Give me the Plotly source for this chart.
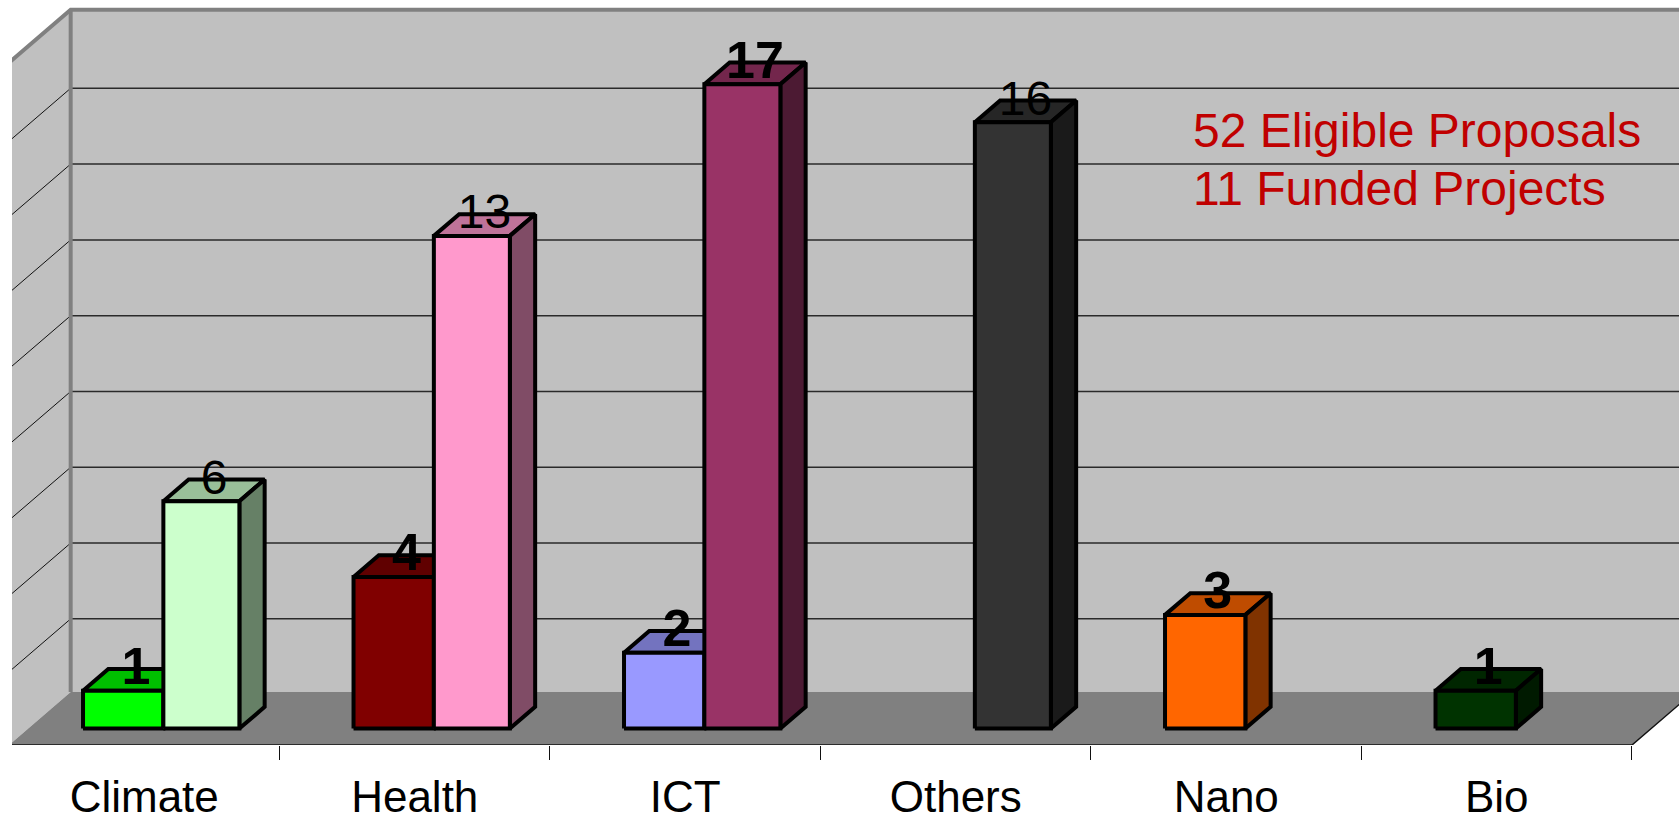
import plotly.graph_objects as go

# Proposal counts per research area
categories = ["Climate", "Health", "ICT", "Others", "Nano", "Bio"]
funded = [1, 4, 2, None, 3, 1]
eligible = [6, 13, 17, 16, None, None]
funded_colors = ["#00FF00", "#800000", "#9999FF", None, "#FF6600", "#003300"]
eligible_colors = ["#CCFFCC", "#FF99CC", "#993366", "#333333", None, None]
value_gridlines = [2, 4, 6, 8, 10, 12, 14, 16, 18]
notes = ["52 Eligible Proposals", "11 Funded Projects"]

# Oblique projection used for the 3D box: depth runs 0 (front) to 1 (back)
DX = 0.228
DY = 1.398
BAR_FRONT = 0.31
BAR_DEPTH = 0.41
FUNDED_WIDTH = 0.297
ELIGIBLE_WIDTH = 0.281
WALL_TOP = 18
GRID_DROP = 0.07
RIGHT_END = 6
X_RANGE = [0.0111, 6.1738]
Y_RANGE = [-BAR_FRONT * DY, 19.224]

FONT = "Liberation Sans, Arial, sans-serif"
EDGE = 4
LABEL_LIFT = 0.23


def project(x, value, depth):
    return x + depth * DX, value + (depth - BAR_FRONT) * DY


def shade(color, factor):
    r, g, b = (int(color[i:i + 2], 16) for i in (1, 3, 5))
    return f"rgb({r * factor:.0f},{g * factor:.0f},{b * factor:.0f})"


def polygon(points, fill, line_color=None, width=0):
    xs, ys = zip(*points)
    return go.Scatter(
        x=list(xs) + [xs[0]], y=list(ys) + [ys[0]], mode="lines", fill="toself",
        fillcolor=fill, line=dict(color=line_color or fill, width=width),
        hoverinfo="skip", showlegend=False,
    )


def line(points, color, width):
    xs, ys = zip(*points)
    return go.Scatter(x=list(xs), y=list(ys), mode="lines",
                      line=dict(color=color, width=width),
                      hoverinfo="skip", showlegend=False)


fig = go.Figure()

# Walls and floor
fig.add_trace(polygon([project(0, 0, 0), project(0, WALL_TOP, 0),
                       project(0, WALL_TOP, 1), project(0, 0, 1)], "#C0C0C0"))
fig.add_trace(polygon([project(0, 0, 1), project(0, WALL_TOP, 1),
                       project(RIGHT_END, WALL_TOP, 1), project(RIGHT_END, 0, 1)], "#C0C0C0"))
fig.add_trace(polygon([project(0, 0, 0), project(RIGHT_END, 0, 0),
                       project(RIGHT_END, 0, 1), project(0, 0, 1)], "#808080"))

# Gridlines on the back and side walls
for v in value_gridlines[:-1]:
    fig.add_trace(line([project(0, v - GRID_DROP, 0), project(0, v - GRID_DROP, 1)], "#111111", 1))
    fig.add_trace(line([project(0, v - GRID_DROP, 1), project(RIGHT_END, v - GRID_DROP, 1)], "#2A2A2A", 1.5))

# Wall outlines
fig.add_trace(line([project(0, WALL_TOP, 0), project(0, WALL_TOP, 1),
                    project(RIGHT_END, WALL_TOP, 1)], "#808080", 4))
fig.add_trace(line([project(0, 0, 1), project(0, WALL_TOP, 1)], "#808080", 4))

# Front floor edge
edge = line([project(0, 0, 0), project(RIGHT_END, 0, 0), project(RIGHT_END, 0, 1)], "#111111", 1.5)
edge.cliponaxis = False
fig.add_trace(edge)


def add_bar(left, right, value, color):
    d0, d1 = BAR_FRONT, BAR_FRONT + BAR_DEPTH
    fig.add_trace(polygon([project(left, value, d0), project(left, value, d1),
                           project(right, value, d1), project(right, value, d0)],
                          shade(color, 0.75), "black", EDGE))
    fig.add_trace(polygon([project(right, 0, d0), project(right, value, d0),
                           project(right, value, d1), project(right, 0, d1)],
                          shade(color, 0.5), "black", EDGE))
    fig.add_trace(polygon([project(left, 0, d0), project(left, value, d0),
                           project(right, value, d0), project(right, 0, d0)],
                          color, "black", EDGE))


label_x, label_y, label_text, label_size = [], [], [], []


def add_label(left, right, value, bold):
    lx, ly = project((left + right) / 2, value, BAR_FRONT + BAR_DEPTH / 2)
    label_x.append(lx)
    label_y.append(ly + LABEL_LIFT)
    label_text.append(f"<b>{value}</b>" if bold else str(value))
    label_size.append(52 if bold else 48)


for i in range(len(categories)):
    center = i + 0.5
    if funded[i] is not None:
        left, right = center - FUNDED_WIDTH, center
        add_bar(left, right, funded[i], funded_colors[i])
        add_label(left, right, funded[i], True)
    if eligible[i] is not None:
        left, right = center, center + ELIGIBLE_WIDTH
        add_bar(left, right, eligible[i], eligible_colors[i])
        add_label(left, right, eligible[i], eligible[i] == max(v for v in eligible if v))

fig.add_trace(go.Scatter(
    x=label_x, y=label_y, text=label_text, mode="text", textposition="middle center",
    textfont=dict(family=FONT, size=label_size, color="black"),
    hoverinfo="skip", showlegend=False, cliponaxis=False,
))

fig.update_layout(
    width=1679, height=822, autosize=False,
    margin=dict(l=12, r=0, t=0, b=77),
    paper_bgcolor="white", plot_bgcolor="white", showlegend=False,
    xaxis=dict(
        range=X_RANGE, showgrid=False, zeroline=False, showline=False, automargin=False,
        tickmode="array", tickvals=[i + 0.5 for i in range(len(categories))],
        ticktext=categories, ticks="", ticklabelstandoff=22,
        tickfont=dict(family=FONT, size=44, color="black"),
        minor=dict(tickmode="array", tickvals=list(range(1, RIGHT_END + 1)),
                   ticks="outside", ticklen=14, tickwidth=1, tickcolor="#111111", showgrid=False),
    ),
    yaxis=dict(range=Y_RANGE, visible=False, automargin=False),
    annotations=[
        dict(text=notes[0], xref="paper", yref="paper", x=0.7075, y=1 - 131 / 745,
             xanchor="left", yanchor="middle", showarrow=False,
             font=dict(family=FONT, size=48, color="#C00000")),
        dict(text=notes[1], xref="paper", yref="paper", x=0.7075, y=1 - 188 / 745,
             xanchor="left", yanchor="middle", showarrow=False,
             font=dict(family=FONT, size=48, color="#C00000")),
    ],
)

fig.write_html("out.html", config=dict(displayModeBar=False))
